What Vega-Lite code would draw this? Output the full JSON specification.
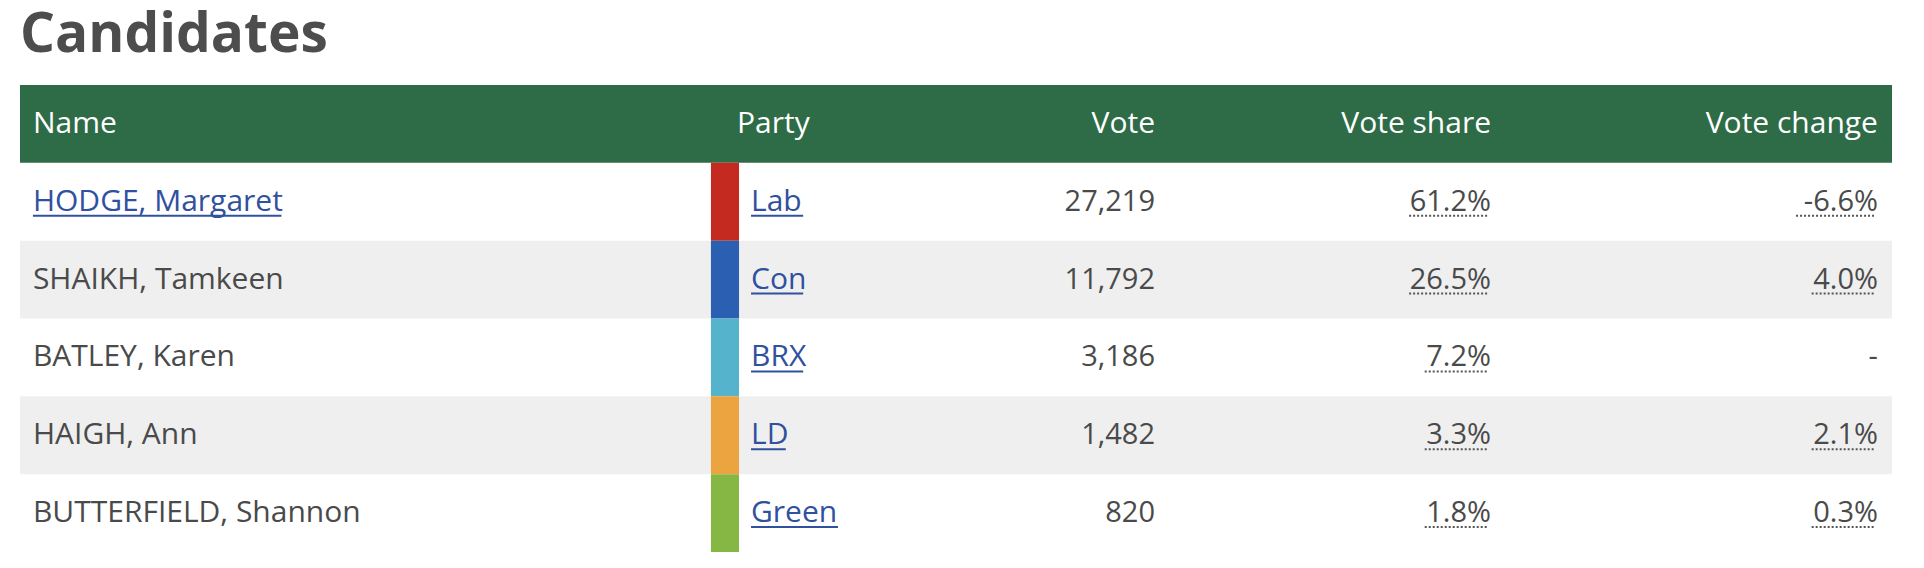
{
  "$schema": "https://vega.github.io/schema/vega-lite/v6.json",
  "description": "Candidates table: name, party, vote, vote share and vote change.",
  "width": 1924,
  "height": 568,
  "autosize": {"type": "fit", "contains": "padding"},
  "padding": {"left": 20, "right": 32, "top": 8, "bottom": 16},
  "background": "white",
  "title": {
    "text": "Candidates",
    "anchor": "start",
    "font": "Open Sans",
    "fontSize": 55,
    "fontWeight": "bold",
    "color": "#4d4d4d",
    "offset": 21
  },
  "config": {
    "view": {"stroke": null},
    "text": {"font": "Open Sans"}
  },
  "datasets": {
    "candidates": [
      {"Name": "HODGE, Margaret", "Party": "Lab", "Vote": 27219, "Share": 61.2, "Change": -6.6, "Elected": true},
      {"Name": "SHAIKH, Tamkeen", "Party": "Con", "Vote": 11792, "Share": 26.5, "Change": 4.0, "Elected": false},
      {"Name": "BATLEY, Karen", "Party": "BRX", "Vote": 3186, "Share": 7.2, "Change": null, "Elected": false},
      {"Name": "HAIGH, Ann", "Party": "LD", "Vote": 1482, "Share": 3.3, "Change": 2.1, "Elected": false},
      {"Name": "BUTTERFIELD, Shannon", "Party": "Green", "Vote": 820, "Share": 1.8, "Change": 0.3, "Elected": false}
    ],
    "columns": [
      {"Column": "Name", "Align": "left"},
      {"Column": "Party", "Align": "left"},
      {"Column": "Vote", "Align": "right"},
      {"Column": "Vote share", "Align": "right"},
      {"Column": "Vote change", "Align": "right"}
    ]
  },
  "layer": [
    {
      "data": {"name": "columns"},
      "transform": [
        {"filter": "datum.Column == 'Name'"},
        {"calculate": "'header'", "as": "Row"},
        {"calculate": "0", "as": "Start"},
        {"calculate": "100", "as": "End"}
      ],
      "mark": {"type": "rect", "color": "#2e6b47"},
      "encoding": {
        "y": {
          "field": "Row",
          "type": "nominal",
          "scale": {
            "type": "band",
            "domain": ["header", "HODGE, Margaret", "SHAIKH, Tamkeen", "BATLEY, Karen", "HAIGH, Ann", "BUTTERFIELD, Shannon"],
            "paddingInner": 0,
            "paddingOuter": 0
          },
          "axis": null
        },
        "x": {"field": "Start", "type": "quantitative", "scale": {"domain": [0, 100], "nice": false, "zero": false}, "axis": null},
        "x2": {"field": "End"}
      }
    },
    {
      "data": {"name": "columns"},
      "transform": [
        {"filter": "datum.Align == 'left'"},
        {"calculate": "'header'", "as": "Row"},
        {"calculate": "datum.Column == 'Name' ? 0.69 : 38.3", "as": "Pos"}
      ],
      "mark": {"type": "text", "align": "left", "baseline": "middle", "fontSize": 30, "color": "white"},
      "encoding": {
        "y": {"field": "Row", "type": "nominal", "axis": null},
        "x": {"field": "Pos", "type": "quantitative", "axis": null},
        "text": {"field": "Column"}
      }
    },
    {
      "data": {"name": "columns"},
      "transform": [
        {"filter": "datum.Align == 'right'"},
        {"calculate": "'header'", "as": "Row"},
        {"calculate": "datum.Column == 'Vote' ? 60.63 : datum.Column == 'Vote share' ? 78.58 : 99.25", "as": "Pos"}
      ],
      "mark": {"type": "text", "align": "right", "baseline": "middle", "fontSize": 30, "color": "white"},
      "encoding": {
        "y": {"field": "Row", "type": "nominal", "axis": null},
        "x": {"field": "Pos", "type": "quantitative", "axis": null},
        "text": {"field": "Column"}
      }
    },
    {
      "data": {"name": "candidates"},
      "transform": [
        {"window": [{"op": "row_number", "as": "Order"}], "sort": [{"field": "Vote", "order": "descending"}]},
        {"calculate": "format(datum.Share, '.1f') + '%'", "as": "ShareText"},
        {"calculate": "datum.Change == null ? '-' : replace(format(datum.Change, '.1f'), '\u2212', '-') + '%'", "as": "ChangeText"},
        {"calculate": "0", "as": "RowStart"},
        {"calculate": "100", "as": "RowEnd"},
        {"calculate": "36.91", "as": "StripStart"},
        {"calculate": "38.41", "as": "StripEnd"},
        {"calculate": "0.69", "as": "NameX"},
        {"calculate": "0.69 + length(datum.Name) * 0.885", "as": "NameEnd"},
        {"calculate": "39.05", "as": "PartyX"},
        {"calculate": "39.05 + length(datum.Party) * 0.929", "as": "PartyEnd"},
        {"calculate": "60.63", "as": "VoteX"},
        {"calculate": "78.58", "as": "ShareX"},
        {"calculate": "78.37", "as": "ShareLineEnd"},
        {"calculate": "78.37 - length(datum.ShareText) * 0.833", "as": "ShareLineStart"},
        {"calculate": "99.25", "as": "ChangeX"},
        {"calculate": "99.04", "as": "ChangeLineEnd"},
        {"calculate": "99.04 - length(datum.ChangeText) * 0.833", "as": "ChangeLineStart"}
      ],
      "encoding": {
        "y": {"field": "Name", "type": "nominal", "axis": null}
      },
      "layer": [
        {
          "transform": [{"filter": "datum.Order % 2 == 0"}],
          "mark": {"type": "rect", "color": "#efefef"},
          "encoding": {
            "x": {"field": "RowStart", "type": "quantitative", "axis": null},
            "x2": {"field": "RowEnd"}
          }
        },
        {
          "mark": {"type": "rect"},
          "encoding": {
            "x": {"field": "StripStart", "type": "quantitative", "axis": null},
            "x2": {"field": "StripEnd"},
            "color": {
              "field": "Party",
              "type": "nominal",
              "scale": {
                "domain": ["Lab", "Con", "BRX", "LD", "Green"],
                "range": ["#c42a1f", "#2a5fb2", "#55b3cc", "#eba43f", "#86b744"]
              },
              "legend": null
            }
          }
        },
        {
          "mark": {"type": "text", "align": "left", "baseline": "middle", "fontSize": 30},
          "encoding": {
            "x": {"field": "NameX", "type": "quantitative", "axis": null},
            "text": {"field": "Name"},
            "color": {"condition": {"test": "datum.Elected", "value": "#3050a0"}, "value": "#4a4a4a"}
          }
        },
        {
          "transform": [{"filter": "datum.Elected"}],
          "mark": {"type": "rule", "color": "#3050a0", "strokeWidth": 2},
          "encoding": {
            "y": {"field": "Name", "type": "nominal", "bandPosition": 0.68, "axis": null},
            "x": {"field": "NameX", "type": "quantitative", "axis": null},
            "x2": {"field": "NameEnd"}
          }
        },
        {
          "mark": {"type": "text", "align": "left", "baseline": "middle", "fontSize": 30, "color": "#3050a0"},
          "encoding": {
            "x": {"field": "PartyX", "type": "quantitative", "axis": null},
            "text": {"field": "Party"}
          }
        },
        {
          "mark": {"type": "rule", "color": "#3050a0", "strokeWidth": 2},
          "encoding": {
            "y": {"field": "Name", "type": "nominal", "bandPosition": 0.68, "axis": null},
            "x": {"field": "PartyX", "type": "quantitative", "axis": null},
            "x2": {"field": "PartyEnd"}
          }
        },
        {
          "mark": {"type": "text", "align": "right", "baseline": "middle", "fontSize": 29, "color": "#4a4a4a"},
          "encoding": {
            "x": {"field": "VoteX", "type": "quantitative", "axis": null},
            "text": {"field": "Vote", "type": "quantitative", "format": ",d"}
          }
        },
        {
          "mark": {"type": "text", "align": "right", "baseline": "middle", "fontSize": 29, "color": "#4a4a4a"},
          "encoding": {
            "x": {"field": "ShareX", "type": "quantitative", "axis": null},
            "text": {"field": "ShareText"}
          }
        },
        {
          "mark": {"type": "rule", "color": "#555555", "strokeWidth": 2, "strokeDash": [2, 2]},
          "encoding": {
            "y": {"field": "Name", "type": "nominal", "bandPosition": 0.68, "axis": null},
            "x": {"field": "ShareLineStart", "type": "quantitative", "axis": null},
            "x2": {"field": "ShareLineEnd"}
          }
        },
        {
          "mark": {"type": "text", "align": "right", "baseline": "middle", "fontSize": 29, "color": "#4a4a4a"},
          "encoding": {
            "x": {"field": "ChangeX", "type": "quantitative", "axis": null},
            "text": {"field": "ChangeText"}
          }
        },
        {
          "transform": [{"filter": "datum.Change != null"}],
          "mark": {"type": "rule", "color": "#555555", "strokeWidth": 2, "strokeDash": [2, 2]},
          "encoding": {
            "y": {"field": "Name", "type": "nominal", "bandPosition": 0.68, "axis": null},
            "x": {"field": "ChangeLineStart", "type": "quantitative", "axis": null},
            "x2": {"field": "ChangeLineEnd"}
          }
        }
      ]
    }
  ]
}
